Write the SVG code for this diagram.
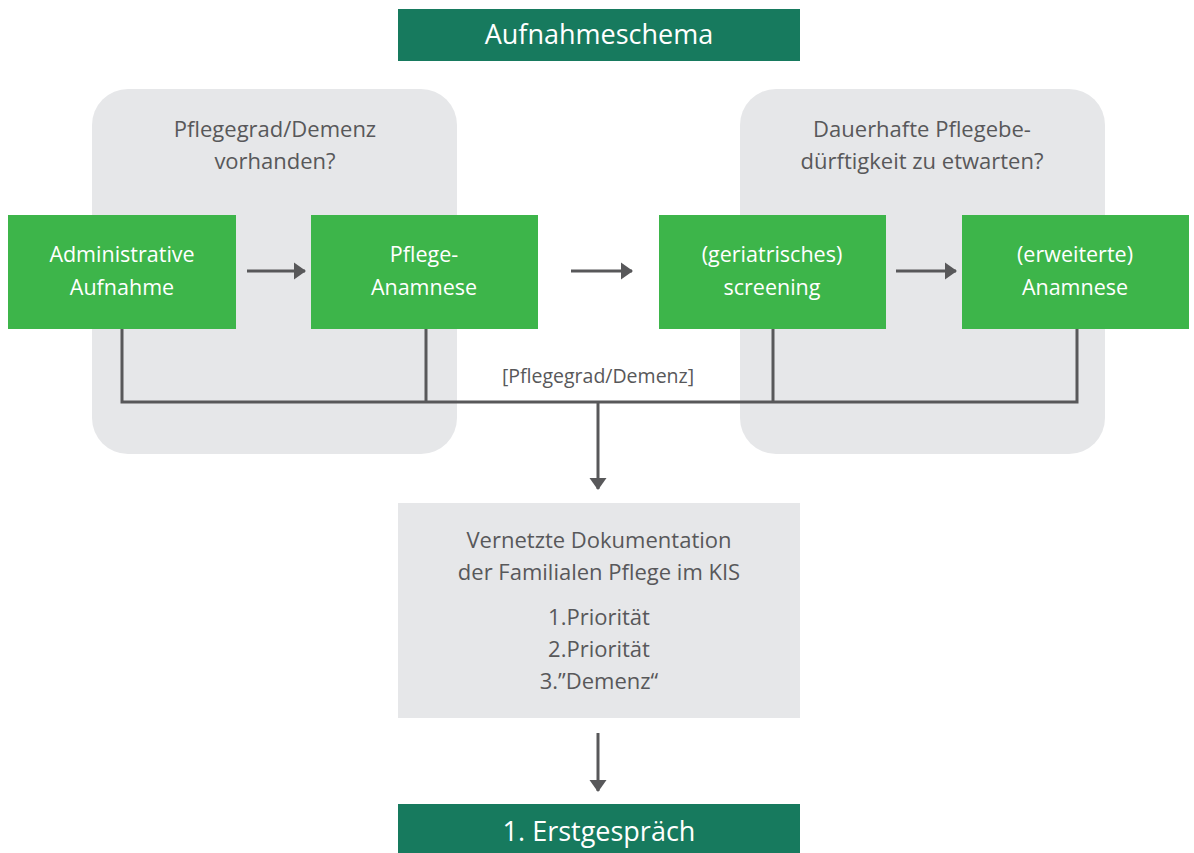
<svg xmlns="http://www.w3.org/2000/svg" width="1194" height="853" viewBox="0 0 1194 853">
<style>
.region{fill:#e6e7e9}
.green{fill:#3db54a}
.dark{fill:#177a5e}
.doc{fill:#e6e7e9}
text{font-family:"Open Sans","Liberation Sans",sans-serif;text-anchor:middle}
.w{fill:#ffffff;font-size:21.5px}
.t{fill:#ffffff;font-size:27px}
.g{fill:#58585a;font-size:22px}
.s{fill:#58585a;font-size:19.5px}
.ln{stroke:#58585a;stroke-width:3;fill:none}
</style>
<defs>
<marker id="ah" viewBox="0 0 12 17" refX="11" refY="8.5" markerWidth="4" markerHeight="5.67" orient="auto" markerUnits="strokeWidth">
<path d="M0,0 L12,8.5 L0,17 z" fill="#58585a"/>
</marker>
</defs>
<g id="region-left"><rect class="region" x="92" y="89" width="365" height="365" rx="36"/>
<text class="g" x="275" y="137">Pflegegrad/Demenz</text>
<text class="g" x="275" y="169">vorhanden?</text></g>
<g id="region-right"><rect class="region" x="740" y="89" width="365" height="365" rx="36"/>
<text class="g" x="922" y="137">Dauerhafte Pflegebe-</text>
<text class="g" x="922" y="169">dürftigkeit zu etwarten?</text></g>
<g id="title"><rect class="dark" x="398" y="9" width="402" height="52"/>
<text class="t" x="599" y="44">Aufnahmeschema</text></g>
<g id="admin"><rect class="green" x="8" y="215" width="228" height="114"/>
<text class="w" x="122" y="262">Administrative</text>
<text class="w" x="122" y="295">Aufnahme</text></g>
<g id="pflege"><rect class="green" x="311" y="215" width="227" height="114"/>
<text class="w" x="424" y="262">Pflege-</text>
<text class="w" x="424" y="295">Anamnese</text></g>
<g id="screening"><rect class="green" x="659" y="215" width="227" height="114"/>
<text class="w" x="772" y="262">(geriatrisches)</text>
<text class="w" x="772" y="295">screening</text></g>
<g id="erweitert"><rect class="green" x="962" y="215" width="227" height="114"/>
<text class="w" x="1075" y="262">(erweiterte)</text>
<text class="w" x="1075" y="295">Anamnese</text></g>
<g id="doku"><rect class="doc" x="398" y="503" width="402" height="215"/>
<text class="g" x="599" y="548">Vernetzte Dokumentation</text>
<text class="g" x="599" y="580">der Familialen Pflege im KIS</text>
<text class="g" x="599" y="625">1.Priorität</text>
<text class="g" x="599" y="657">2.Priorität</text>
<text class="g" x="599" y="689">3.”Demenz“</text></g>
<g id="erstgespraech"><rect class="dark" x="398" y="804" width="402" height="52"/>
<text class="t" x="599" y="841">1. Erstgespräch</text></g>
<g id="connectors">
<line class="ln" x1="247" y1="271" x2="305" y2="271" marker-end="url(#ah)"/>
<line class="ln" x1="571" y1="271" x2="632" y2="271" marker-end="url(#ah)"/>
<line class="ln" x1="896" y1="271" x2="956" y2="271" marker-end="url(#ah)"/>
<polyline class="ln" points="122,329 122,402 1077,402 1077,329"/>
<line class="ln" x1="426" y1="329" x2="426" y2="402"/>
<line class="ln" x1="773" y1="329" x2="773" y2="402"/>
<line class="ln" x1="598" y1="402" x2="598" y2="489" marker-end="url(#ah)"/>
<line class="ln" x1="598" y1="733" x2="598" y2="791" marker-end="url(#ah)"/>
<text class="s" x="598" y="383">[Pflegegrad/Demenz]</text>
</g>
</svg>
